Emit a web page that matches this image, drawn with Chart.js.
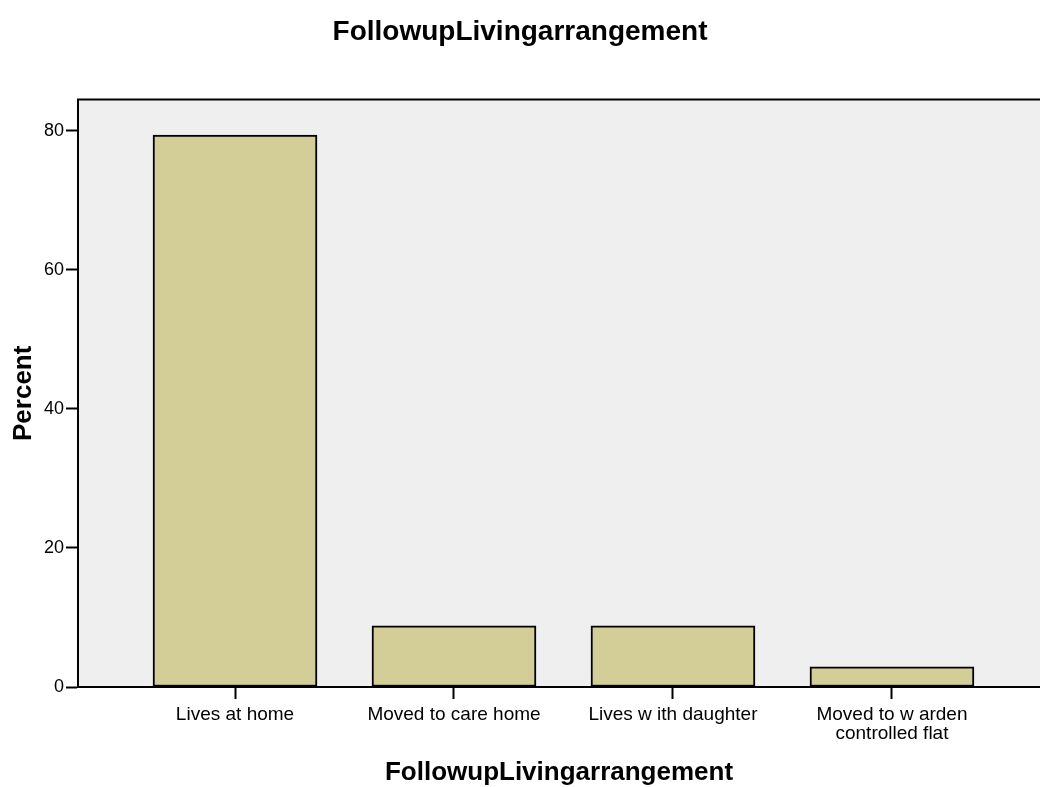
<!DOCTYPE html>
<html>
<head>
<meta charset="utf-8">
<title>FollowupLivingarrangement</title>
<script src="https://cdn.jsdelivr.net/npm/chart.js@4.4.1/dist/chart.umd.min.js"></script>
<style>
  html, body { margin: 0; padding: 0; background: #fff; overflow: hidden; }
  #wrap { width: 1040px; height: 787px; }
</style>
</head>
<body>
<div id="wrap"><canvas id="barChart" width="1040" height="787"></canvas></div>
<script>
// ===== Data =====
const categories = [
  'Lives at home',
  'Moved to care home',
  'Lives w ith daughter',
  ['Moved to w arden', 'controlled flat']
];
const percents = [79.4, 8.8, 8.8, 2.9];
const yTicks = [0, 20, 40, 60, 80];

// ===== Style =====
const fontFam = "'Liberation Sans', Arial, sans-serif";
const barFill = '#d3ce98';
const plotBg = '#efefef';

Chart.defaults.font.family = fontFam;
Chart.defaults.color = '#000';

// plot background + top frame line
const plotFrame = {
  id: 'plotFrame',
  beforeDraw(chart) {
    const { ctx, chartArea: a } = chart;
    ctx.save();
    ctx.fillStyle = plotBg;
    ctx.fillRect(a.left, a.top, a.right - a.left, a.bottom - a.top);
    ctx.restore();
  },
  afterDraw(chart) {
    const { ctx, chartArea: a } = chart;
    ctx.save();
    ctx.strokeStyle = '#000';
    ctx.lineWidth = 2;
    ctx.beginPath();
    ctx.moveTo(a.left - 1, a.top);
    ctx.lineTo(a.right, a.top);
    ctx.stroke();
    ctx.restore();
  }
};

new Chart(document.getElementById('barChart'), {
  type: 'bar',
  data: {
    datasets: [{
      label: 'Percent',
      data: categories.map((c, i) => ({ x: i, y: percents[i] })),
      backgroundColor: barFill,
      borderColor: '#000',
      borderWidth: 2,
      borderSkipped: false,
      barThickness: 164
    }]
  },
  plugins: [plotFrame],
  options: {
    responsive: false,
    animation: false,
    layout: { padding: 0 },
    plugins: {
      legend: { display: false },
      tooltip: { enabled: false },
      title: {
        display: true,
        text: 'FollowupLivingarrangement',
        font: { size: 28, weight: 'bold' },
        color: '#000',
        padding: { top: 15, bottom: 51 }
      }
    },
    scales: {
      x: {
        type: 'linear',
        offset: false,
        min: -0.717,
        max: 3.676,
        afterBuildTicks: (s) => { s.ticks = categories.map((c, i) => ({ value: i })); },
        afterFit: (s) => { s.height = 100; },
        ticks: {
          autoSkip: false,
          maxRotation: 0,
          padding: 6,
          font: { size: 19, lineHeight: 1.0 },
          color: '#000',
          callback: (v) => categories[v]
        },
        grid: {
          offset: false,
          drawOnChartArea: false,
          drawTicks: true,
          tickLength: 12,
          tickWidth: 2,
          tickColor: '#000'
        },
        border: { display: true, color: '#000', width: 2 },
        title: {
          display: true,
          text: 'FollowupLivingarrangement',
          font: { size: 26, weight: 'bold' },
          color: '#000',
          padding: { top: 0, bottom: -1 }
        }
      },
      y: {
        min: 0,
        max: 84.5,
        afterBuildTicks: (s) => { s.ticks = yTicks.map(v => ({ value: v })); },
        afterFit: (s) => { s.width = 78; },
        ticks: {
          padding: 2,
          font: { size: 18 },
          color: '#000'
        },
        grid: {
          drawOnChartArea: false,
          drawTicks: true,
          tickLength: 12,
          tickWidth: 2,
          tickColor: '#000'
        },
        border: { display: true, color: '#000', width: 2 },
        title: {
          display: true,
          text: 'Percent',
          font: { size: 26, weight: 'bold' },
          color: '#000',
          padding: { top: 8, bottom: 0 }
        }
      }
    }
  }
});
</script>
</body>
</html>
